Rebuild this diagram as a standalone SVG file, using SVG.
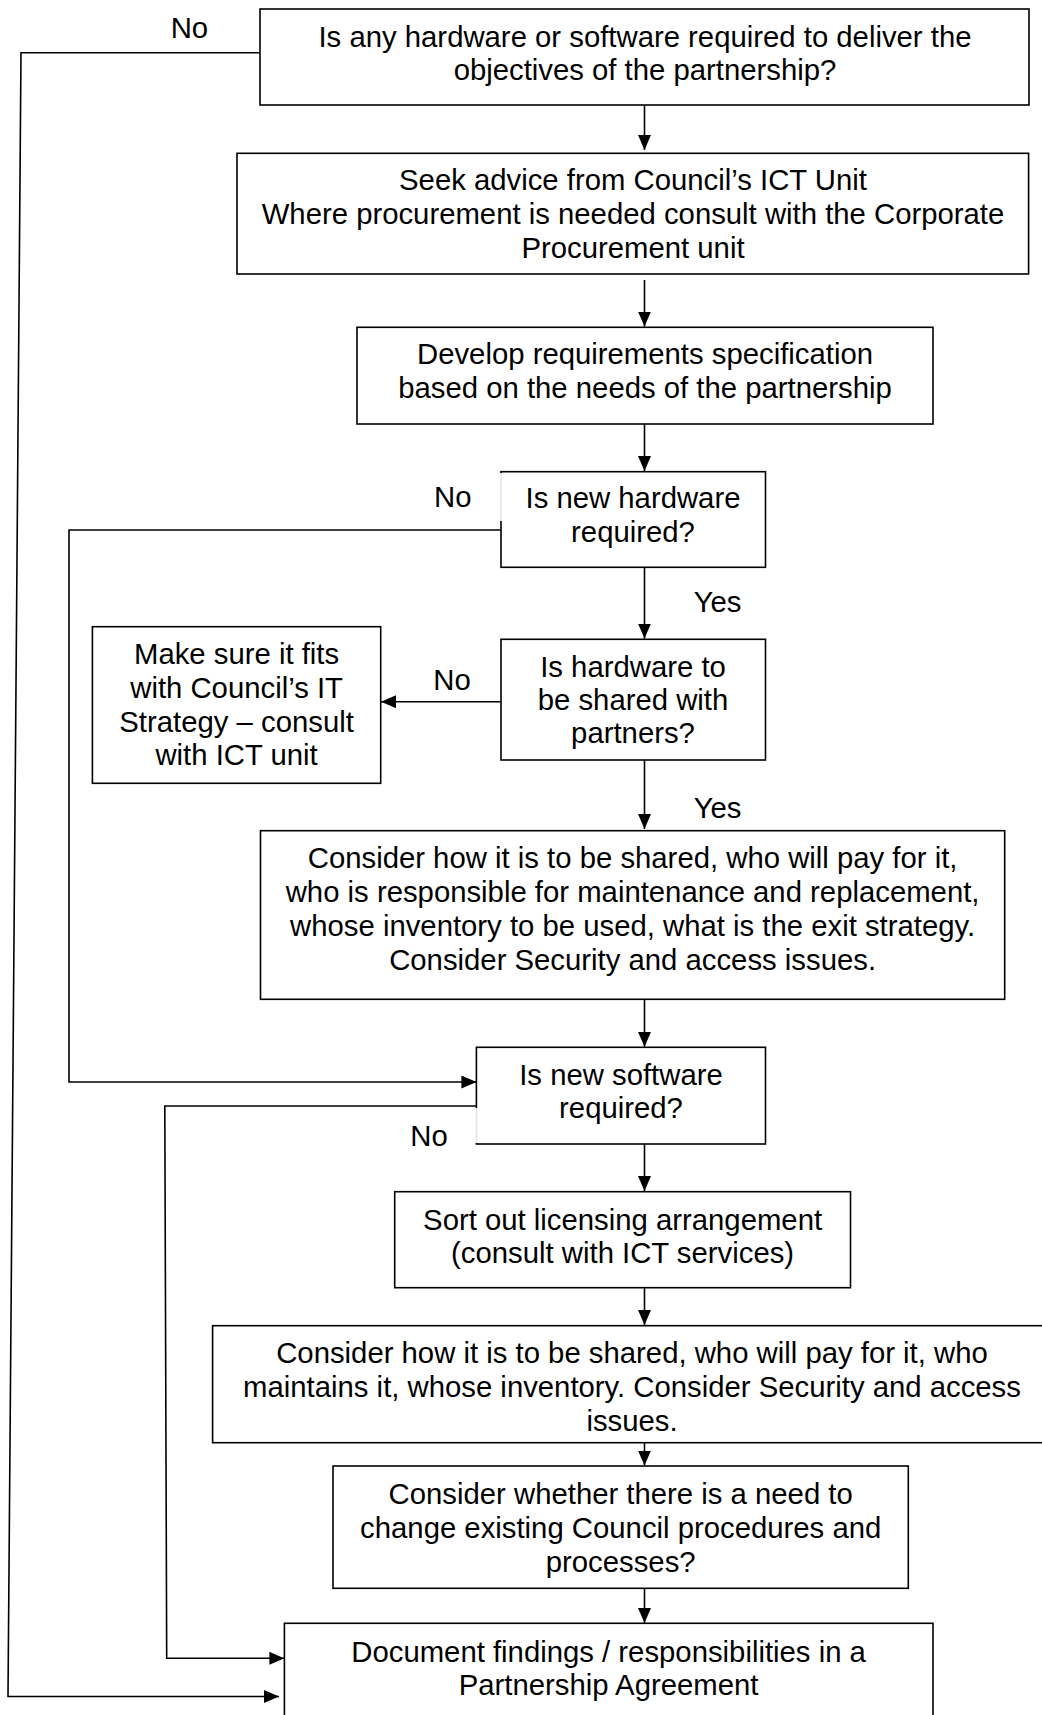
<svg xmlns="http://www.w3.org/2000/svg" width="1042" height="1715" viewBox="0 0 1042 1715">
  <style>
    .box { fill: #ffffff; stroke: #000000; stroke-width: 1.6; }
    .cover { fill: #ffffff; fill-opacity: 0.9; stroke: none; }
    .lbl { font-family: "Liberation Sans", Arial, sans-serif; font-size: 29.3px; fill: #000000; text-anchor: middle; }
    .wire { fill: none; stroke: #000000; stroke-width: 1.6; }
  </style>
  <defs>
    <marker id="arrow" viewBox="0 0 15 13" refX="15" refY="6.5" markerWidth="15" markerHeight="13" markerUnits="userSpaceOnUse" orient="auto">
      <path d="M0,0 L15,6.5 L0,13 Z" fill="#000000"/>
    </marker>
  </defs>
  <rect x="0" y="0" width="1042" height="1715" fill="#ffffff"/>

  <!-- flow connectors -->
  <g id="connectors">
    <path class="wire" d="M260,52.7 H21 L8,1696.5 H279" marker-end="url(#arrow)"/>
    <path class="wire" d="M644.5,101 V150" marker-end="url(#arrow)"/>
    <path class="wire" d="M644.5,280 V326.5" marker-end="url(#arrow)"/>
    <path class="wire" d="M644.5,424 V471" marker-end="url(#arrow)"/>
    <path class="wire" d="M501,530 H69 V1082 H476.4" marker-end="url(#arrow)"/>
    <path class="wire" d="M644.5,567 V638.5" marker-end="url(#arrow)"/>
    <path class="wire" d="M501,701.7 H381" marker-end="url(#arrow)"/>
    <path class="wire" d="M644.5,760 V829" marker-end="url(#arrow)"/>
    <path class="wire" d="M644.5,999 V1046.8" marker-end="url(#arrow)"/>
    <path class="wire" d="M476.4,1106 H164.8 L166.7,1658.3 H284.4" marker-end="url(#arrow)"/>
    <path class="wire" d="M644.5,1144 V1191" marker-end="url(#arrow)"/>
    <path class="wire" d="M644.5,1288 V1325" marker-end="url(#arrow)"/>
    <path class="wire" d="M644.5,1443 V1465.5" marker-end="url(#arrow)"/>
    <path class="wire" d="M644.5,1588 V1623" marker-end="url(#arrow)"/>
  </g>

  <g id="q-any-hw-sw">
    <rect class="box" x="260" y="9" width="769" height="96"/>
    <text class="lbl" x="645" y="46.7">Is any hardware or software required to deliver the</text>
    <text class="lbl" x="645" y="80.3">objectives of the partnership?</text>
  </g>
  <text class="lbl" x="189.4" y="38.3">No</text>

  <g id="seek-advice">
    <rect class="box" x="237" y="153.3" width="791.6" height="120.7"/>
    <text class="lbl" x="633" y="190">Seek advice from Council’s ICT Unit</text>
    <text class="lbl" x="633" y="224">Where procurement is needed consult with the Corporate</text>
    <text class="lbl" x="633" y="258">Procurement unit</text>
  </g>

  <g id="requirements-spec">
    <rect class="box" x="357" y="327.3" width="576" height="96.7"/>
    <text class="lbl" x="645" y="364.3">Develop requirements specification</text>
    <text class="lbl" x="645" y="398.3">based on the needs of the partnership</text>
  </g>

  <g id="q-new-hw">
    <rect class="box" x="501" y="471.7" width="264.5" height="95.6"/>
    <rect class="cover" x="425" y="473" width="78" height="48"/>
    <text class="lbl" x="633" y="508.3">Is new hardware</text>
    <text class="lbl" x="633" y="541.7">required?</text>
  </g>
  <text class="lbl" x="452.7" y="507.3">No</text>
  <text class="lbl" x="717.6" y="611.5">Yes</text>

  <g id="q-hw-shared">
    <rect class="box" x="501" y="639.3" width="264.5" height="120.7"/>
    <text class="lbl" x="633" y="676.7">Is hardware to</text>
    <text class="lbl" x="633" y="710">be shared with</text>
    <text class="lbl" x="633" y="743">partners?</text>
  </g>
  <text class="lbl" x="452" y="690">No</text>

  <g id="fit-it-strategy">
    <rect class="box" x="92.4" y="626.7" width="288.3" height="156.6"/>
    <text class="lbl" x="236.6" y="664.3">Make sure it fits</text>
    <text class="lbl" x="236.6" y="698">with Council’s IT</text>
    <text class="lbl" x="236.6" y="731.5">Strategy – consult</text>
    <text class="lbl" x="236.6" y="765">with ICT unit</text>
  </g>
  <text class="lbl" x="717.6" y="818.3">Yes</text>

  <g id="hw-sharing">
    <rect class="box" x="260.5" y="830.7" width="744.2" height="168.6"/>
    <text class="lbl" x="632.6" y="868.3">Consider how it is to be shared, who will pay for it,</text>
    <text class="lbl" x="632.6" y="902">who is responsible for maintenance and replacement,</text>
    <text class="lbl" x="632.6" y="936">whose inventory to be used, what is the exit strategy.</text>
    <text class="lbl" x="632.6" y="970">Consider Security and access issues.</text>
  </g>

  <g id="q-new-sw">
    <rect class="box" x="476.4" y="1047.3" width="289.1" height="96.7"/>
    <rect class="cover" x="405" y="1108" width="73" height="35"/>
    <text class="lbl" x="621" y="1085">Is new software</text>
    <text class="lbl" x="621" y="1118.3">required?</text>
  </g>
  <text class="lbl" x="429" y="1146.3">No</text>

  <g id="licensing">
    <rect class="box" x="394.7" y="1191.7" width="455.8" height="96"/>
    <text class="lbl" x="622.6" y="1230">Sort out licensing arrangement</text>
    <text class="lbl" x="622.6" y="1263">(consult with ICT services)</text>
  </g>

  <g id="sw-sharing">
    <rect class="box" x="212.6" y="1325.7" width="840" height="117"/>
    <text class="lbl" x="632" y="1363.3">Consider how it is to be shared, who will pay for it, who</text>
    <text class="lbl" x="632" y="1397.3">maintains it, whose inventory. Consider Security and access</text>
    <text class="lbl" x="632" y="1430.7">issues.</text>
  </g>

  <g id="procedures">
    <rect class="box" x="333" y="1466" width="575.3" height="122.3"/>
    <text class="lbl" x="620.7" y="1504">Consider whether there is a need to</text>
    <text class="lbl" x="620.7" y="1538">change existing Council procedures and</text>
    <text class="lbl" x="620.7" y="1571.7">processes?</text>
  </g>

  <g id="partnership-agreement">
    <rect class="box" x="284.4" y="1623.3" width="648.6" height="110"/>
    <text class="lbl" x="608.6" y="1661.7">Document findings / responsibilities in a</text>
    <text class="lbl" x="608.6" y="1695">Partnership Agreement</text>
  </g>
</svg>
